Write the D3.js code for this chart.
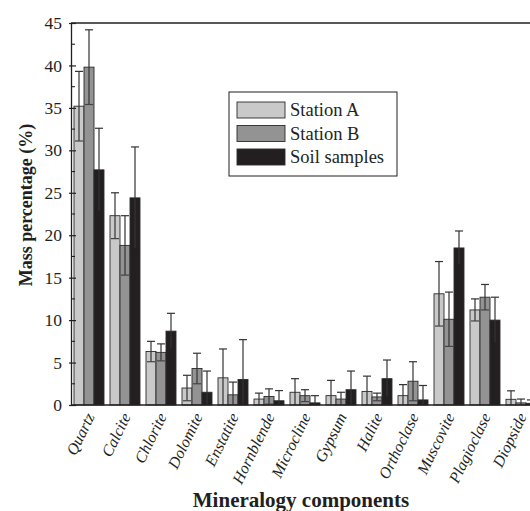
<!DOCTYPE html>
<html>
<head>
<meta charset="utf-8">
<script src="https://cdn.jsdelivr.net/npm/d3@7"></script>
<style>
  body { margin: 0; background: #fff; overflow: hidden; }
  text { font-family: "Liberation Serif", "Times New Roman", serif; fill: #231f20; }
</style>
</head>
<body>
<svg></svg>
<script>
const minerals = ["Quartz", "Calcite", "Chlorite", "Dolomite", "Enstatite", "Hornblende",
  "Microcline", "Gypsum", "Halite", "Orthoclase", "Muscovite", "Plagioclase", "Diopside"];
const seriesNames = ["Station A", "Station B", "Soil samples"];
const stationA = [35.2, 22.3, 6.3, 2.0, 3.2, 0.7, 1.5, 1.1, 1.6, 1.1, 13.1, 11.2, 0.67];
const stationAErr = [4.1, 2.7, 1.2, 1.5, 3.4, 0.7, 1.6, 1.8, 1.8, 1.3, 3.8, 1.3, 1.0];
const stationB = [39.8, 18.8, 6.2, 4.3, 1.2, 1.0, 1.1, 0.7, 0.95, 2.8, 10.1, 12.7, 0.25];
const stationBErr = [4.4, 3.5, 1.0, 1.8, 1.5, 0.9, 0.7, 0.8, 0.45, 2.3, 3.2, 1.5, 0.45];
const soil = [27.7, 24.4, 8.7, 1.5, 3.0, 0.5, 0.25, 1.8, 3.1, 0.6, 18.5, 10.0, 0.2];
const soilErr = [4.9, 6.0, 2.1, 2.5, 4.7, 1.2, 0.85, 2.2, 2.2, 1.7, 2.0, 2.7, 0.4];
const yTicks = [0, 5, 10, 15, 20, 25, 30, 35, 40, 45];

const colors = ["#c9c9c9", "#939393", "#231f20"];
const size = { w: 530, h: 511 };
const plot = { l: 71, r: 539, t: 23, b: 405 };

const svg = d3.select("svg").attr("width", size.w).attr("height", size.h);

const values = [stationA, stationB, soil];
const errs = [stationAErr, stationBErr, soilErr];
const data = [];
minerals.forEach((m, i) => {
  seriesNames.forEach((s, j) => {
    data.push({ mineral: m, series: s, idx: j, value: values[j][i], err: errs[j][i] });
  });
});

const x0 = d3.scaleBand().domain(minerals).range([plot.l, plot.r])
  .paddingInner(1 / 6).paddingOuter(1 / 12);
const x1 = d3.scaleBand().domain(seriesNames).range([0, x0.bandwidth()]);
const y = d3.scaleLinear().domain([0, 45]).range([plot.b, plot.t]);

// bars
const barG = svg.append("g");
barG.selectAll("rect")
  .data(data)
  .join("rect")
  .attr("x", (d) => x0(d.mineral) + x1(d.series))
  .attr("y", (d) => y(d.value))
  .attr("width", x1.bandwidth())
  .attr("height", (d) => y(0) - y(d.value))
  .attr("fill", (d) => colors[d.idx])
  .attr("stroke", "#2a2a2a")
  .attr("stroke-width", 0.9);

// error bars
const errG = svg.append("g").attr("stroke", "#333").attr("stroke-width", 1.2);
data.forEach((d) => {
  const cx = x0(d.mineral) + x1(d.series) + x1.bandwidth() / 2;
  const hi = y(d.value + d.err);
  const lo = y(Math.max(0, d.value - d.err));
  errG.append("line").attr("x1", cx).attr("x2", cx).attr("y1", hi).attr("y2", lo);
  errG.append("line").attr("x1", cx - 4).attr("x2", cx + 4).attr("y1", hi).attr("y2", hi);
  if (d.value - d.err > 0) {
    errG.append("line").attr("x1", cx - 4).attr("x2", cx + 4).attr("y1", lo).attr("y2", lo)
      .attr("stroke", d.idx === 2 ? "#231f20" : "#444");
  }
});

// frame lines
svg.append("line").attr("x1", plot.l).attr("x2", plot.r).attr("y1", plot.t).attr("y2", plot.t)
  .attr("stroke", "#231f20").attr("stroke-width", 1.3);
svg.append("line").attr("x1", plot.l).attr("x2", plot.r).attr("y1", plot.b).attr("y2", plot.b)
  .attr("stroke", "#231f20").attr("stroke-width", 1.5);

// y axis
const yAxis = d3.axisLeft(y).tickValues(yTicks).tickSize(0).tickPadding(9);
const yAxisG = svg.append("g").attr("transform", `translate(${plot.l},0)`).call(yAxis);
yAxisG.select(".domain").attr("stroke", "#231f20").attr("stroke-width", 1.3);
yAxisG.selectAll("text").attr("font-size", 17.5).attr("font-family", "Liberation Serif").attr("fill", "#231f20");
yAxisG.selectAll(".tick").append("line")
  .attr("x1", -2).attr("x2", 5).attr("stroke", "#231f20").attr("stroke-width", 1.2);
const minor = d3.range(2.5, 45, 5);
yAxisG.selectAll(".minor").data(minor).join("line").classed("minor", true)
  .attr("x1", 0).attr("x2", 4).attr("y1", (d) => y(d)).attr("y2", (d) => y(d))
  .attr("stroke", "#231f20").attr("stroke-width", 1.1);

// x labels
const xAxisG = svg.append("g");
minerals.forEach((m) => {
  const cx = x0(m) + x0.bandwidth() / 2 + 1;
  xAxisG.append("text")
    .attr("transform", `translate(${cx},${plot.b + 9}) rotate(-64)`)
    .attr("text-anchor", "end")
    .attr("dy", "0.35em")
    .attr("font-size", 16)
    .attr("font-style", "italic")
    .text(m);
});

// axis titles
svg.append("text")
  .attr("transform", `translate(32,205) rotate(-90)`)
  .attr("text-anchor", "middle")
  .attr("font-size", 18)
  .attr("font-weight", "bold")
  .text("Mass percentage (%)");
svg.append("text")
  .attr("x", 301).attr("y", 507)
  .attr("text-anchor", "middle")
  .attr("font-size", 21)
  .attr("font-weight", "bold")
  .text("Mineralogy components");

// legend
const legendG = svg.append("g").attr("transform", "translate(229,92)");
legendG.append("rect").attr("width", 168).attr("height", 84)
  .attr("fill", "#fff").attr("stroke", "#231f20").attr("stroke-width", 1);
seriesNames.forEach((s, i) => {
  legendG.append("rect")
    .attr("x", 8).attr("y", 10 + i * 23.5)
    .attr("width", 48).attr("height", 16)
    .attr("fill", colors[i]).attr("stroke", "#2a2a2a").attr("stroke-width", 0.9);
  legendG.append("text")
    .attr("x", 61).attr("y", 18 + i * 23.5)
    .attr("dy", "0.35em")
    .attr("font-size", 18.5)
    .text(s);
});
</script>
</body>
</html>
